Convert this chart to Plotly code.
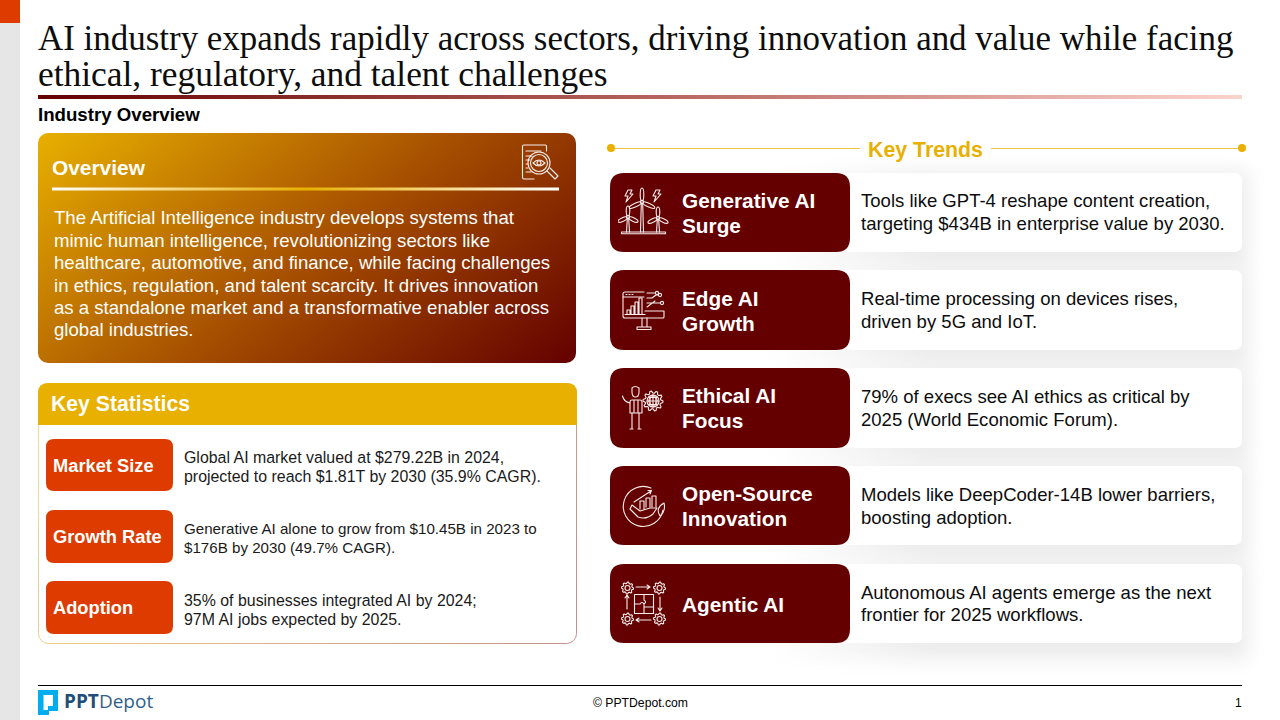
"""Slide: AI industry overview, built from Plotly shapes, images and annotations."""

import base64
import math

import plotly.graph_objects as go

TITLE_LINES = [
    "AI industry expands rapidly across sectors, driving innovation and value while facing",
    "ethical, regulatory, and talent challenges",
]
SECTION = "Industry Overview"
OVERVIEW_HEAD = "Overview"
OVERVIEW_LINES = [
    "The Artificial Intelligence industry develops systems that",
    "mimic human intelligence, revolutionizing sectors like",
    "healthcare, automotive, and finance, while facing challenges",
    "in ethics, regulation, and talent scarcity. It drives innovation",
    "as a standalone market and a transformative enabler across",
    "global industries.",
]
STATS_HEAD = "Key Statistics"
STAT_LABELS = ["Market Size", "Growth Rate", "Adoption"]
STAT_LINES = [
    ["Global AI market valued at $279.22B in 2024,", "projected to reach $1.81T by 2030 (35.9% CAGR)."],
    ["Generative AI alone to grow from $10.45B in 2023 to", "$176B by 2030 (49.7% CAGR)."],
    ["35% of businesses integrated AI by 2024;", "97M AI jobs expected by 2025."],
]
TRENDS_HEAD = "Key Trends"
TREND_TITLES = [
    ["Generative AI", "Surge"],
    ["Edge AI", "Growth"],
    ["Ethical AI", "Focus"],
    ["Open-Source", "Innovation"],
    ["Agentic AI"],
]
TREND_LINES = [
    ["Tools like GPT-4 reshape content creation,", "targeting $434B in enterprise value by 2030."],
    ["Real-time processing on devices rises,", "driven by 5G and IoT."],
    ["79% of execs see AI ethics as critical by", "2025 (World Economic Forum)."],
    ["Models like DeepCoder-14B lower barriers,", "boosting adoption."],
    ["Autonomous AI agents emerge as the next", "frontier for 2025 workflows."],
]
FOOTER = "© PPTDepot.com"
PAGE = "1"

MAROON = "#640000"
GOLD = "#E8B000"
ORANGE = "#DE3B00"
SANS = "Liberation Sans"
SERIF = "Liberation Serif"

# layout of repeated blocks, in page pixels
TITLE_SIZES = [34.95, 35.4]
STAT_BOXES = [(439, 491), (510, 563), (581, 634)]
STAT_TEXT_Y = [(457, 476), (528, 547), (600, 619)]
STAT_TEXT_SIZES = [15.92, 15.15, 15.92]
TREND_BOXES = [(173, 252), (270, 350), (368, 448), (466, 545), (564, 643)]
TREND_HEAD_Y = [(200, 225), (298, 323), (395, 420), (493, 518), (604,)]
TREND_TEXT_Y = [(200.5, 223.5), (298.5, 321.5), (396.5, 419.5), (494.5, 517.5), (592.5, 614.5)]

images = []
shapes = []
notes = []


def svg_image(x, y, w, h, body, backdrop=False):
    """Place svg markup drawn in page pixels.

    Subplot images sit over subplot shapes, so anything that has to stay
    behind the shapes goes in the paper layer instead (backdrop=True).
    """
    svg = (
        f'<svg xmlns="http://www.w3.org/2000/svg" width="{w}" height="{h}" '
        f'viewBox="{x} {y} {w} {h}">{body}</svg>'
    )
    uri = "data:image/svg+xml;base64," + base64.b64encode(svg.encode()).decode()
    if backdrop:
        images.append(dict(
            source=uri, xref="paper", yref="paper", x=x / 1280, y=1 - y / 720,
            sizex=w / 1280, sizey=h / 720, sizing="stretch",
            xanchor="left", yanchor="top", layer="below",
        ))
    else:
        images.append(dict(
            source=uri, xref="x", yref="y", x=x, y=y, sizex=w, sizey=h,
            sizing="stretch", xanchor="left", yanchor="top", layer="below",
        ))


def text(x, y, s, size, color="#000000", bold=False, family=SANS, anchor="left"):
    notes.append(dict(
        x=x, y=y, xref="x", yref="y", text=f"<b>{s}</b>" if bold else s,
        showarrow=False, xanchor=anchor, yanchor="middle", align=anchor,
        font=dict(family=family, size=size, color=color), borderpad=0,
    ))


def rect(x0, y0, x1, y1, fill):
    shapes.append(dict(
        type="rect", xref="x", yref="y", x0=x0, y0=y0, x1=x1, y1=y1,
        fillcolor=fill, line=dict(width=0), layer="below",
    ))


def rounded(x0, y0, x1, y1, r, fill, tl=True, tr=True, br=True, bl=True):
    """Rounded rectangle as a path; each corner can be left square."""
    p = f"M{x0 + (r if tl else 0)},{y0} L{x1 - (r if tr else 0)},{y0} "
    if tr:
        p += f"Q{x1},{y0} {x1},{y0 + r} "
    p += f"L{x1},{y1 - (r if br else 0)} "
    if br:
        p += f"Q{x1},{y1} {x1 - r},{y1} "
    p += f"L{x0 + (r if bl else 0)},{y1} "
    if bl:
        p += f"Q{x0},{y1} {x0},{y1 - r} "
    p += f"L{x0},{y0 + (r if tl else 0)} "
    if tl:
        p += f"Q{x0},{y0} {x0 + r},{y0} "
    p += "Z"
    shapes.append(dict(
        type="path", path=p, xref="x", yref="y", fillcolor=fill,
        line=dict(width=0), layer="below",
    ))


def gear(cx, cy, r, teeth=8):
    """Outlined cog wheel, returned as svg markup."""
    pts = []
    for i in range(teeth * 4):
        a = 2 * math.pi * i / (teeth * 4)
        rr = r if i % 4 in (0, 1) else r * 0.78
        pts.append(f"{cx + rr * math.cos(a):.2f},{cy + rr * math.sin(a):.2f}")
    return f'<polygon points="{" ".join(pts)}"/><circle cx="{cx}" cy="{cy}" r="{r * 0.42:.2f}"/>'


def turbine(cx, hub, base, blade):
    body = f'<path d="M{cx - 1.5},{base} L{cx - 0.7},{hub + 2} M{cx + 1.5},{base} L{cx + 0.7},{hub + 2}"/>'
    body += f'<circle cx="{cx}" cy="{hub}" r="1.6"/>'
    for ang in (-90, 25, 155):
        body += (
            f'<ellipse cx="{cx + blade / 2 + 1}" cy="{hub}" rx="{blade / 2}" ry="1.8" '
            f'transform="rotate({ang} {cx} {hub})"/>'
        )
    return body


def bolt(x, y):
    return (
        f'<path d="M{x + 3},{y} L{x + 7},{y} L{x + 5},{y + 4} L{x + 8},{y + 4} '
        f'L{x + 1},{y + 12} L{x + 3},{y + 6} L{x},{y + 6} Z"/>'
    )


LINE = 'fill="none" stroke="#F8EEEE" stroke-width="1.1" stroke-linejoin="round" stroke-linecap="round"'

# page background pieces
rect(0, 0, 20, 720, "#E6E6E6")
rect(0, 0, 20, 23, ORANGE)

for line, y, size in zip(TITLE_LINES, [38, 74], TITLE_SIZES):
    text(36.8, y, line, size, "#0D0D0D", family=SERIF)

svg_image(38, 95, 1204, 4, (
    '<defs><linearGradient id="g"><stop offset="0" stop-color="#640000"/>'
    '<stop offset="0.5" stop-color="#B5605A"/><stop offset="1" stop-color="#FBD3CB"/>'
    '</linearGradient></defs><rect x="38" y="95" width="1204" height="4" fill="url(#g)"/>'
))
text(36.8, 114.5, SECTION, 18.67, bold=True)

# overview card
svg_image(38, 133, 538, 230, (
    '<defs><linearGradient id="o" gradientUnits="userSpaceOnUse" x1="38" y1="133" x2="365" y2="534">'
    '<stop offset="0" stop-color="#E8B000"/><stop offset="0.5" stop-color="#A85200"/>'
    '<stop offset="1" stop-color="#640000"/></linearGradient></defs>'
    '<rect x="38" y="133" width="538" height="230" rx="10" fill="url(#o)"/>'
))
svg_image(52, 187, 507, 4, (
    '<defs><linearGradient id="u"><stop offset="0" stop-color="#FFFFFF"/>'
    '<stop offset="0.5" stop-color="#E8B000"/><stop offset="1" stop-color="#FFFFFF"/>'
    '</linearGradient></defs><rect x="52" y="187.5" width="507" height="3" fill="url(#u)"/>'
))
text(50.8, 167.5, OVERVIEW_HEAD, 20.9, "#FFFFFF", bold=True)
for line, y in zip(OVERVIEW_LINES, [217.5, 240.5, 262.5, 285.5, 307.5, 329.5]):
    text(52.8, y, line, 18.6, "#FFFFFF")
svg_image(520, 143, 40, 38, (
    f'<g {LINE}>'
    '<path d="M534,179 H524 Q522.5,179 522.5,177.5 V146.5 Q522.5,145 524,145 H545 Q546.5,145 546.5,146.5 V151"/>'
    '<path d="M526,151 H541 M526,156 H532 M526,160 H530 M526,164 H528 M526,168 H528 M526,172 H531"/>'
    '<circle cx="539" cy="163" r="11"/><circle cx="539" cy="163" r="8.5"/>'
    '<path d="M533,163 Q539,157 545,163 Q539,169 533,163 Z"/><circle cx="539" cy="163" r="2"/>'
    '<path d="M547,171 L555,179 L558,176 L550,168"/></g>'
))

# key statistics panel
svg_image(36, 381, 543, 265, (
    '<defs><linearGradient id="b" gradientUnits="userSpaceOnUse" x1="38" y1="383" x2="577" y2="644">'
    '<stop offset="0" stop-color="#F6DD8A"/><stop offset="1" stop-color="#C48C8C"/></linearGradient></defs>'
    '<rect x="38.5" y="383.5" width="538" height="260" rx="10" fill="#FFFFFF" stroke="url(#b)"/>'
), backdrop=True)
rounded(38, 383, 577, 425, 10, GOLD, br=False, bl=False)
text(49.8, 404, STATS_HEAD, 21.2, "#FFFFFF", bold=True)
for label, lines, (y0, y1), ys, size in zip(STAT_LABELS, STAT_LINES, STAT_BOXES, STAT_TEXT_Y, STAT_TEXT_SIZES):
    rounded(46, y0, 173, y1, 8, ORANGE)
    text(52, (y0 + y1) / 2, label, 18.3, "#FFFFFF", bold=True)
    for line, y in zip(lines, ys):
        text(182.8, y, line, size, "#1A1A1A")

# key trends heading
for x0, x1 in ((610, 860), (991, 1242)):
    shapes.append(dict(type="line", xref="x", yref="y", x0=x0, y0=148.5, x1=x1, y1=148.5,
                       line=dict(color=GOLD, width=0.75), layer="below"))
for cx in (611, 1242):
    shapes.append(dict(type="circle", xref="x", yref="y", x0=cx - 4, y0=144, x1=cx + 4, y1=152,
                       fillcolor=GOLD, line=dict(width=0), layer="below"))
text(925.5, 149.5, TRENDS_HEAD, 21.33, GOLD, bold=True, anchor="center")

# soft shadows behind the trend cards
shadow = (
    '<defs><linearGradient id="s" gradientUnits="userSpaceOnUse" x1="770" y1="0" x2="930" y2="0">'
    '<stop offset="0" stop-color="#FFFFFF"/><stop offset="1" stop-color="#EBEBEB"/></linearGradient>'
    '<filter id="f" x="-10%" y="-30%" width="120%" height="160%"><feGaussianBlur stdDeviation="10"/></filter></defs>'
)
for y0, y1 in TREND_BOXES:
    shadow += f'<rect x="770" y="{y0 - 2}" width="478" height="{y1 - y0 + 18}" fill="url(#s)" filter="url(#f)"/>'
svg_image(700, 130, 580, 560, shadow, backdrop=True)

for heads, lines, (y0, y1), hys, tys in zip(TREND_TITLES, TREND_LINES, TREND_BOXES, TREND_HEAD_Y, TREND_TEXT_Y):
    rounded(830, y0, 1242, y1, 8, "#FFFFFF")
    rounded(610, y0, 850, y1, 14, MAROON)
    for line, y in zip(heads, hys):
        text(680.8, y, line, 20.8, "#FFFFFF", bold=True)
    for line, y in zip(lines, tys):
        text(859.8, y, line, 18.55, "#0D0D0D")

# trend icons, thin white line art
svg_image(618, 186, 52, 52, (
    f'<g {LINE}>' + bolt(625, 190) + bolt(653, 190)
    + turbine(642, 202, 232, 13) + turbine(628, 217, 232, 10) + turbine(658, 218, 232, 10)
    + '<rect x="621.5" y="232" width="44" height="1.8"/></g>'
))
svg_image(620, 289, 48, 44, (
    f'<g {LINE}>'
    '<path d="M644,292 H625 Q623,292 623,294 V316 Q623,318 625,318 H663 Q664,318 664,317 V311 H645"/>'
    '<path d="M623,297 H644 M626,294.5 H627 M629,294.5 H630 M632,294.5 H633"/>'
    '<path d="M627,314 V310 H630 V314 M631,314 V306 H634 V314 M635,314 V302 H638 V314 M639,314 V298 H642 V314 M625,314.5 H645"/>'
    '<path d="M642,318 V327 M647,318 V327 M637,327 H651 V329.5 H637 Z"/>'
    '<path d="M647,293 H655 M647,298 H652 L656,295 H658 M647,303 H660 M647,307 L655,301"/>'
    '<circle cx="657" cy="293" r="1.6"/><circle cx="660" cy="295" r="1.6"/><circle cx="662" cy="303" r="1.6"/>'
    '</g>'
))
svg_image(620, 384, 48, 48, (
    f'<g {LINE}>'
    '<path d="M632,392 V388 Q635,385 639,388 V392 Q639,397 635.5,397 Q632,397 632,392 Z"/>'
    '<path d="M630,413 V402 Q630,400 632,400 H640 Q642,400 642,402 V413 Z M634,400 V412 M638,400 V412"/>'
    '<path d="M630,403 Q624,402 622.5,396 M632,413 V428 M639,413 V428 M630,429 H633 M638,429 H641"/>'
    + gear(653, 401, 10, 10)
    + '<circle cx="653" cy="401" r="6"/><path d="M647,401 H659 M653,395 V407 M649,397.5 H657 M649,404.5 H657"/>'
    + '<ellipse cx="653" cy="401" rx="3" ry="6"/></g>'
))
svg_image(620, 482, 48, 48, (
    f'<g {LINE}>'
    '<path d="M651,488 A20,20 0 1 0 663,510"/>'
    '<path d="M634,502 L651,491 M648,490.5 L651.5,490.5 L650,494"/>'
    '<path d="M640,509 V501 H644 V509 M646,507 V498 H650 V507 M652,507 V496 H656 V507"/>'
    '<path d="M632,505 L640,511 L650,508 L657,508 L653,514 Q646,520 638,517 L630,509 Z"/>'
    '<path d="M660,516 Q655,508 664,503 Q666,511 660,516 Z"/></g>'
))
svg_image(618, 578, 52, 52, (
    f'<g {LINE}>' + gear(627.5, 588, 6) + gear(659.5, 588, 6) + gear(627.5, 619, 6) + gear(659.5, 619, 6)
    + '<path d="M636,587 H650 M647,585 L650,587 L647,589 M651,620 H636 M639,618 L636,620 L639,622"/>'
    + '<path d="M627,609 V595 M625,598 L627,595 L629,598 M660,597 V611 M658,608 L660,611 L662,608"/>'
    + '<rect x="634.5" y="594.5" width="19" height="19"/>'
    + '<path d="M644,594.5 V600 Q647,602 644,604 V607 H653.5 M634.5,604 H640 Q642,601 644,604 M644,607 V613.5"/></g>'
))

# footer
shapes.append(dict(type="line", xref="x", yref="y", x0=38, y0=685.5, x1=1242, y1=685.5,
                   line=dict(color="#000000", width=1), layer="below"))
shapes.append(dict(
    type="path", xref="x", yref="y", fillcolor="#00AEEF", line=dict(width=0), layer="below",
    path="M38,690 H58 V711 H49 V715 H38 Z M43.5,695 V710 H48 V706 H53 V695 Z",
))
notes.append(dict(
    x=63, y=701, xref="x", yref="y", xanchor="left", yanchor="middle", showarrow=False,
    text='<b>PPT</b><span style="color:#2F5F8A">Depot</span>', borderpad=0,
    font=dict(family="Open Sans", size=19, color="#1F4E79"),
))
text(640, 703, FOOTER, 12.2, anchor="center")
text(1238.5, 703, PAGE, 12, anchor="center")

fig = go.Figure()
fig.update_layout(
    width=1280,
    height=720,
    margin=dict(l=0, r=0, t=0, b=0),
    paper_bgcolor="#FFFFFF",
    plot_bgcolor="rgba(0,0,0,0)",
    showlegend=False,
    xaxis=dict(range=[0, 1280], visible=False, fixedrange=True),
    yaxis=dict(range=[720, 0], visible=False, fixedrange=True),
    images=images,
    shapes=shapes,
    annotations=notes,
)

fig.write_html(
    "out.html",
    config={"displayModeBar": False},
    post_script="document.body.style.margin='0';document.body.style.overflow='hidden';",
)
